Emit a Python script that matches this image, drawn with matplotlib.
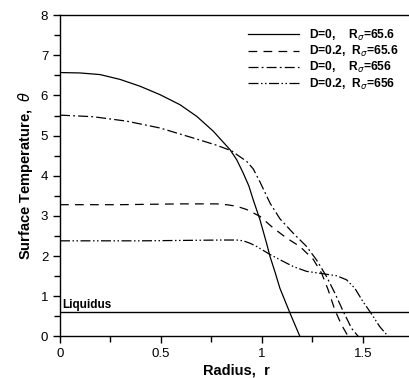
import numpy as np
import matplotlib.pyplot as plt
from matplotlib.ticker import MultipleLocator

plt.rcParams['font.family'] = ['Liberation Sans', 'DejaVu Sans']

# D=0, R_sigma=65.6 (solid)
r_a = [0.0, 0.099, 0.198, 0.297, 0.396, 0.495, 0.594, 0.677, 0.759, 0.842, 0.875, 0.907,
       0.935, 0.957, 0.99, 1.023, 1.04, 1.065, 1.089, 1.139, 1.188]
t_a = [6.57, 6.56, 6.52, 6.40, 6.23, 6.02, 5.77, 5.48, 5.11, 4.65, 4.40, 4.07,
       3.75, 3.40, 2.91, 2.32, 1.99, 1.60, 1.20, 0.58, 0.0]

# D=0.2, R_sigma=65.6 (dashed)
r_b = [0.0, 0.3, 0.6, 0.776, 0.825, 0.876, 0.924, 0.99, 1.056, 1.122, 1.188,
       1.254, 1.295, 1.328, 1.361, 1.394, 1.427]
t_b = [3.28, 3.28, 3.30, 3.30, 3.28, 3.24, 3.16, 2.99, 2.70, 2.45, 2.24,
       1.92, 1.58, 1.16, 0.66, 0.29, 0.0]

# D=0, R_sigma=656 (dash-dot)
r_c = [0.0, 0.165, 0.33, 0.495, 0.66, 0.776, 0.85, 0.875, 0.924, 0.957, 0.99,
       1.04, 1.089, 1.155, 1.221, 1.271, 1.32, 1.361, 1.403, 1.444, 1.477]
t_c = [5.51, 5.47, 5.36, 5.19, 4.94, 4.76, 4.62, 4.53, 4.36, 4.17, 3.85,
       3.32, 2.93, 2.57, 2.24, 1.90, 1.49, 1.08, 0.62, 0.20, 0.0]

# D=0.2, R_sigma=656 (dash-dot-dot)
r_d = [0.0, 0.4, 0.8, 0.875, 0.908, 0.941, 0.974, 1.04, 1.089, 1.155, 1.221,
       1.304, 1.37, 1.419, 1.46, 1.50, 1.54, 1.584, 1.625]
t_d = [2.38, 2.38, 2.40, 2.40, 2.38, 2.32, 2.24, 2.04, 1.91, 1.74, 1.62,
       1.56, 1.51, 1.41, 1.20, 0.87, 0.58, 0.24, 0.0]

liquidus = 0.6
labels = [r'D=0,    R$_{\sigma}$=65.6', r'D=0.2,  R$_{\sigma}$=65.6',
          r'D=0,    R$_{\sigma}$=656', r'D=0.2,  R$_{\sigma}$=656']

fig = plt.figure(figsize=(4.09, 3.78), dpi=100)
ax = fig.add_axes([0.1467, 0.110, 0.864, 0.850])

lw = 0.9
ax.plot(r_a, t_a, color='black', lw=lw, label=labels[0])
ax.plot(r_b, t_b, color='black', lw=lw, linestyle=(0, (7, 5)), label=labels[1])
ax.plot(r_c, t_c, color='black', lw=lw, linestyle=(0, (8, 2.5, 1.5, 2.5)), label=labels[2])
ax.plot(r_d, t_d, color='black', lw=lw, linestyle=(0, (8, 2, 1.2, 2, 1.2, 2)), label=labels[3])

ax.axhline(liquidus, color='black', lw=1.0)
ax.text(0.01, liquidus + 0.1, 'Liquidus', fontsize=8.5, fontweight='bold')

ax.set_xlim(0, 1.75)
ax.set_ylim(0, 8)
ax.xaxis.set_major_locator(MultipleLocator(0.5))
ax.xaxis.set_minor_locator(MultipleLocator(0.25))
ax.yaxis.set_major_locator(MultipleLocator(1))
ax.yaxis.set_minor_locator(MultipleLocator(0.5))
ax.xaxis.set_major_formatter(plt.FuncFormatter(lambda v, p: f'{v:g}'))
ax.tick_params(which='major', direction='out', length=5, width=1, labelsize=9.5)
ax.tick_params(which='minor', direction='out', length=4, width=1)
ax.spines['right'].set_visible(False)
for s in ['left', 'bottom', 'top']:
    ax.spines[s].set_linewidth(1.0)

ax.set_xlabel(r'Radius,  r', fontsize=10.5, fontweight='bold', labelpad=2)
ax.set_ylabel(r'Surface Temperature,  $\theta$', fontsize=10.5, fontweight='bold', labelpad=4)

leg = ax.legend(loc='upper right', bbox_to_anchor=(0.99, 0.995), frameon=False,
                handlelength=4.2, handletextpad=0.85, labelspacing=0.1,
                prop={'weight': 'bold', 'size': 8.7})

fig.savefig('out.png', dpi=100)
